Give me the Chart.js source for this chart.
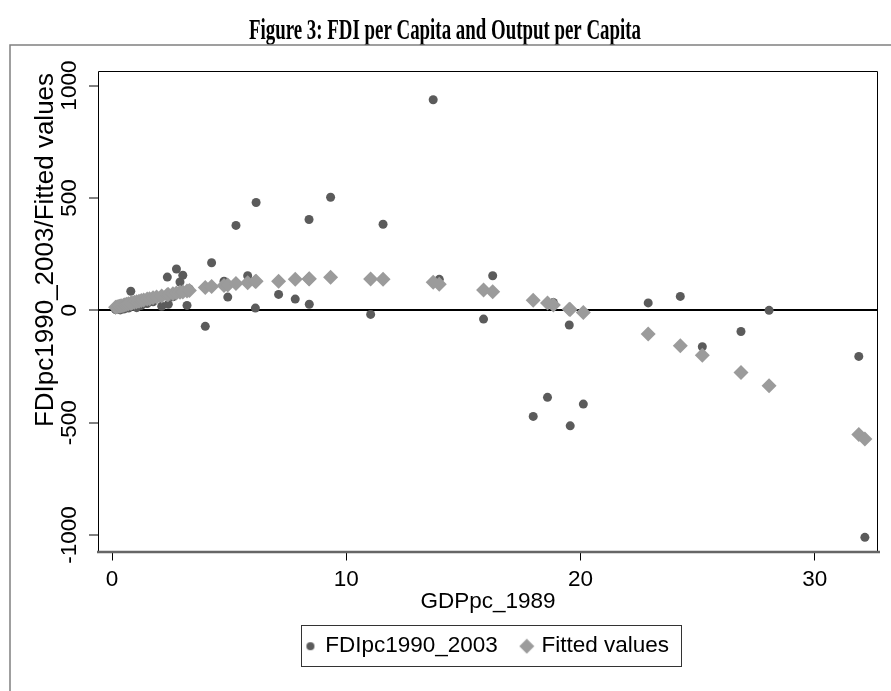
<!DOCTYPE html>
<html>
<head>
<meta charset="utf-8">
<title>Figure 3: FDI per Capita and Output per Capita</title>
<script src="https://cdn.jsdelivr.net/npm/chart.js@4/dist/chart.umd.min.js"></script>
<style>
  html, body { margin: 0; padding: 0; background: #fff; }
</style>
</head>
<body>
<canvas id="fdiChart" width="891" height="691"></canvas>
<script>
// ── Data ───────────────────────────────────
const gdp = [0.15, 0.22, 0.30, 0.35, 0.42, 0.50, 0.55, 0.62, 0.70, 0.80,
             0.85, 0.95, 1.05, 1.15, 1.25, 1.35, 1.50, 1.60, 1.75, 1.90,
             2.12, 2.36, 2.40, 2.60, 2.75, 2.90, 3.02, 3.20, 3.30, 3.98,
             4.25, 4.78, 4.94, 5.29, 5.79, 6.12, 6.15, 7.11, 7.82, 8.41,
             8.42, 9.33, 11.04, 11.57, 13.71, 13.97, 15.86, 16.25, 17.98, 18.59,
             18.84, 19.52, 19.56, 20.12, 22.89, 24.26, 25.20, 26.85, 28.05, 31.88,
             32.14];
const fdi = [3, 8, 12, 2, 20, 6, 15, 30, 10, 85,
             18, 25, 12, 35, 22, 40, 30, 45, 38, 55,
             18, 148, 27, 60, 184, 126, 156, 22, 95, -71,
             212, 130, 59, 378, 154, 10, 480, 71, 50, 404,
             27, 503, -18, 383, 937, 138, -39, 154, -472, -387,
             35, -65, -514, -417, 33, 62, -162, -94, 0, -205,
             -1010];
const fitted = [14, 16, 18, 19, 21, 23, 25, 27, 29, 32,
                33, 36, 38, 41, 44, 46, 50, 52, 56, 59,
                64, 69, 70, 74, 77, 80, 82, 86, 88, 102,
                106, 111, 113, 119, 123, 128, 129, 129, 138, 140,
                141, 147, 140, 138, 125, 116, 90, 83, 45, 33,
                24, 5, 4, -10, -105, -157, -200, -276, -336, -552,
                -572];
const xTicks = [0, 10, 20, 30];
const yTicks = [-1000, -500, 0, 500, 1000];

const TITLE  = "Figure 3: FDI per Capita and Output per Capita";
const YTITLE = "FDIpc1990_2003/Fitted values";

const SANS  = "'Liberation Sans', Arial, sans-serif";
const SERIF = "'Liberation Serif', 'Times New Roman', serif";
const DARK  = "#5b5b5b";
const LIGHT = "#9b9b9b";

Chart.defaults.font.family = SANS;
Chart.defaults.color = "#000";

// ── Legend icons (own sizes per series) ────
function makeIcon(kind) {
  const c = document.createElement("canvas");
  const s = kind === "circle" ? 10 : 16;
  c.width = s; c.height = s;
  const g = c.getContext("2d");
  g.fillStyle = kind === "circle" ? DARK : LIGHT;
  g.beginPath();
  if (kind === "circle") {
    g.arc(s / 2, s / 2, 4, 0, Math.PI * 2);
  } else {
    g.moveTo(s / 2, 0.5); g.lineTo(s - 0.5, s / 2);
    g.lineTo(s / 2, s - 0.5); g.lineTo(0.5, s / 2);
    g.closePath();
  }
  g.fill();
  return c;
}
const legendIcons = [makeIcon("circle"), makeIcon("diamond")];

// ── Title, frames, rotated y labels, legend box ──
const stataFrame = {
  id: "stataFrame",
  afterDraw(chart) {
    const { ctx, chartArea: a, scales: { y } } = chart;
    ctx.save();

    // condensed bold serif title
    ctx.fillStyle = "#000";
    ctx.font = "bold 29px " + SERIF;
    ctx.textAlign = "center";
    ctx.textBaseline = "alphabetic";
    const tw = ctx.measureText(TITLE).width;
    ctx.save();
    ctx.translate(445, 39);
    ctx.scale(392 / tw, 1);
    ctx.fillText(TITLE, 0, 0);
    ctx.restore();

    // outer graph region
    ctx.strokeStyle = "#808080";
    ctx.lineWidth = 1.5;
    ctx.beginPath();
    ctx.moveTo(10, 691); ctx.lineTo(10, 45); ctx.lineTo(891, 45);
    ctx.stroke();

    // plot region
    ctx.strokeStyle = "#000";
    ctx.lineWidth = 1;
    ctx.beginPath();
    ctx.moveTo(a.left + 0.5, a.bottom); ctx.lineTo(a.left + 0.5, a.top + 0.5);
    ctx.lineTo(a.right - 0.5, a.top + 0.5); ctx.lineTo(a.right - 0.5, a.bottom);
    ctx.stroke();
    ctx.strokeStyle = "#666";
    ctx.lineWidth = 2.5;
    ctx.beginPath();
    ctx.moveTo(a.left - 1, a.bottom + 0.5); ctx.lineTo(a.right + 2, a.bottom + 0.5);
    ctx.stroke();

    // y tick labels, vertical
    ctx.font = "22.5px " + SANS;
    ctx.textBaseline = "middle";
    yTicks.forEach(v => {
      ctx.save();
      ctx.translate(70, y.getPixelForValue(v));
      ctx.rotate(-Math.PI / 2);
      ctx.fillText(String(v), 0, 0);
      ctx.restore();
    });

    // y axis title
    ctx.save();
    ctx.font = "26px " + SANS;
    ctx.translate(46, 250);
    ctx.rotate(-Math.PI / 2);
    ctx.fillText(YTITLE, 0, 0);
    ctx.restore();

    // legend border
    const hb = chart.legend.legendHitBoxes;
    if (hb && hb.length) {
      const last = hb[hb.length - 1];
      const l  = hb[0].left - 6;
      const r  = last.left + last.width + 12;
      const cy = hb[0].top + hb[0].height / 2;
      ctx.strokeStyle = "#333";
      ctx.lineWidth = 1;
      ctx.strokeRect(Math.round(l) + 0.5, Math.round(cy - 21) + 0.5, Math.round(r - l), 41);
    }
    ctx.restore();
  }
};

// ── Chart ─────────────────────────────────
const ctx = document.getElementById("fdiChart").getContext("2d");
new Chart(ctx, {
  type: "scatter",
  data: {
    datasets: [
      {
        label: "FDIpc1990_2003",
        data: gdp.map((x, i) => ({ x, y: fdi[i] })),
        backgroundColor: DARK,
        borderWidth: 0,
        pointStyle: "circle",
        pointRadius: 4.5,
        order: 1,
      },
      {
        label: "Fitted values",
        data: gdp.map((x, i) => ({ x, y: fitted[i] })),
        backgroundColor: LIGHT,
        borderWidth: 0,
        pointStyle: "rectRot",
        pointRadius: 7.5,
        order: 0,
      },
    ],
  },
  options: {
    responsive: false,
    animation: false,
    layout: { padding: { left: 10, right: 13, top: 71, bottom: 23.5 } },
    plugins: {
      tooltip: { enabled: false },
      title: { display: false },
      legend: {
        position: "bottom",
        fullSize: false,
        labels: {
          usePointStyle: true,
          boxWidth: 7,
          boxHeight: 7,
          padding: 25.5,
          font: { size: 22.5 },
          color: "#000",
          generateLabels: chart => chart.data.datasets.map((ds, i) => ({
            text: ds.label,
            pointStyle: legendIcons[i],
            fillStyle: ds.backgroundColor,
            strokeStyle: ds.backgroundColor,
            lineWidth: 0,
            hidden: false,
            datasetIndex: i,
          })),
        },
      },
    },
    scales: {
      x: {
        type: "linear",
        min: -0.6,
        max: 32.7,
        afterBuildTicks: s => { s.ticks = xTicks.map(v => ({ value: v })); },
        afterFit: s => { s.height = 58; },
        grid: { drawOnChartArea: false, tickLength: 9, color: "#000", lineWidth: 1 },
        border: { display: false },
        ticks: { padding: 6, font: { size: 22.5 }, color: "#000", maxRotation: 0 },
        title: {
          display: true,
          text: "GDPpc_1989",
          font: { size: 22.5 },
          color: "#000",
          padding: { top: 0, bottom: -5.5 },
        },
      },
      y: {
        type: "linear",
        min: -1073,
        max: 1065,
        afterBuildTicks: s => { s.ticks = yTicks.map(v => ({ value: v })); },
        afterFit: s => { s.width = 88; },
        grid: {
          color: c => (c.tick && c.tick.value === 0 ? "#000" : "rgba(0,0,0,0)"),
          lineWidth: 2,
          tickColor: "#000",
          tickWidth: 1,
          tickLength: 9,
        },
        border: { display: false },
        ticks: { display: false },
      },
    },
  },
  plugins: [stataFrame],
});
</script>
</body>
</html>
